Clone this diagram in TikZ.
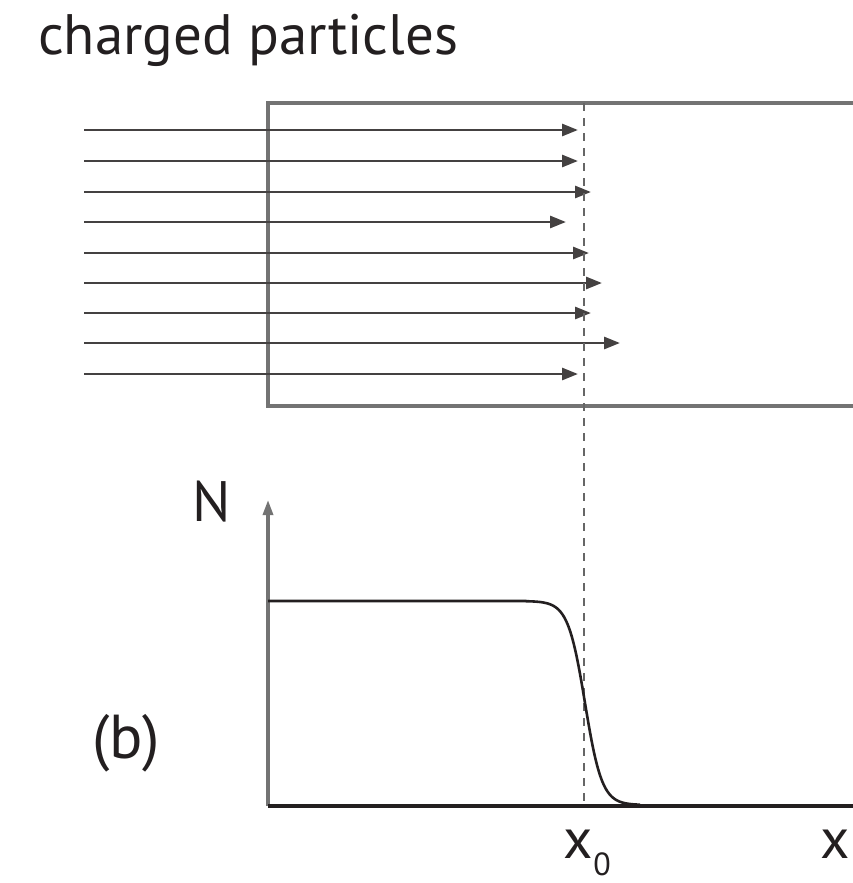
\documentclass[tikz,border=0pt]{standalone}
\usepackage{fontspec}
\setmainfont{PT Sans}
\usetikzlibrary{arrows.meta}
\definecolor{ink}{HTML}{231F20}
\begin{document}
\begin{tikzpicture}[x=1pt,y=-1pt,
  lbl/.style={font=\fontsize{57}{60}\selectfont, text=ink, inner sep=0pt},
  ray/.style={line width=2.8pt, draw=ink!85, -{Triangle[length=16pt,width=12pt]}},
  boxline/.style={line width=3.2pt, draw=black!55},
  axis/.style={line width=3.2pt, draw=black!55}]
\useasboundingbox (0,0) rectangle (853,883);
\node[lbl, anchor=base west] (title) at (38,55) {charged particles};
% slab
\draw[boxline] (870,103) -- (268,103) -- (268,406) -- (870,406);
% rays
\foreach \y/\e [count=\i] in {130/578,161/578,192/591,222/566,253/589,283/602,313/591,343/620,374/578}{
  \coordinate (s\i) at (84,\y);
  \coordinate (e\i) at (\e,\y);
  \draw[ray] (s\i) -- (e\i);
}
% dashed line
\coordinate (dtop) at (584,103);
\coordinate (dbot) at (584,805);
\draw[line width=2.2pt, draw=black!60, dash pattern=on 8pt off 7pt] (dtop) -- (dbot);
% axes
\coordinate (o) at (268,806);
\coordinate (ytip) at (268,500);
\coordinate (xend) at (870,806);
\draw[axis, -{Triangle[length=15pt,width=10pt]}] (o) -- (ytip);
\draw[line width=3.4pt, draw=ink] (o) -- (xend);
% curve
\draw[line width=2.6pt, draw=ink] (268,601) -- (525,601)
  -- plot[domain=525:640, samples=160] (\x,{601+204/(1+exp(-(\x-585)/8.5))});
% labels
\node[lbl, anchor=base] (N) at (212,521) {N};
\node[lbl, anchor=base, font=\fontsize{62}{64}\selectfont] (b) at (126,758) {(b)};
\node[lbl, anchor=base] (x0) at (578,858) {x};
\node[lbl, anchor=base, font=\fontsize{32}{36}\selectfont] (sub) at (602,875) {0};
\node[lbl, anchor=base] (xl) at (835,858) {x};
\end{tikzpicture}
\end{document}
